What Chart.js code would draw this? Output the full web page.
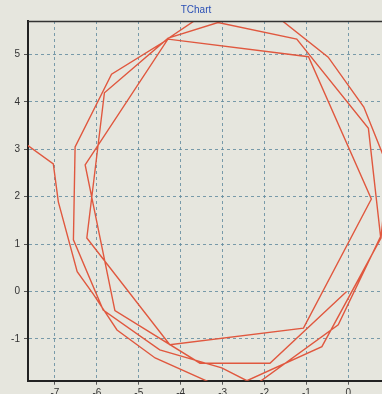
<!DOCTYPE html>
<html>
<head>
<meta charset="utf-8">
<script src="https://cdn.jsdelivr.net/npm/chart.js@4/dist/chart.umd.min.js"></script>
<style>
  html, body { margin: 0; padding: 0; background: #e6e6de; overflow: hidden; width: 382px; height: 394px; }
  #wrap { width: 396px; height: 404px; }
</style>
</head>
<body>
<div id="wrap"><canvas id="c" width="396" height="404"></canvas></div>
<script>
// Path vertices (data coordinates), in drawing order
const xValues = [-8.0, -7.04, -6.92, -6.47, -6.09, -5.52, -4.61, -2.58, -0.24, 0.77,
                 0.48, -1.23, -3.11, -4.30, -5.82, -6.24, -4.26, -1.07, 0.55, -0.95,
                 -4.30, -5.65, -6.52, -6.56, -5.85, -4.50, -3.02, -2.42, -0.63, 0.78,
                 0.95, 0.37, -0.48, -2.54, -4.29, -6.28, -5.57, -3.54, -1.87, -0.04];
const yValues = [3.30, 2.69, 1.89, 0.42, -0.05, -0.81, -1.40, -2.20, -0.70, 1.16,
                 3.44, 5.32, 5.67, 5.34, 4.19, 1.13, -1.12, -0.77, 1.95, 4.95,
                 5.32, 4.58, 3.05, 1.09, -0.39, -1.23, -1.61, -1.88, -1.16, 1.13,
                 2.61, 3.89, 4.94, 6.38, 5.34, 2.67, -0.40, -1.51, -1.51, 0.00];
const xTickValues = [-7, -6, -5, -4, -3, -2, -1, 0, 1];
const yTickValues = [-1, 0, 1, 2, 3, 4, 5];
const chartTitle = 'TChart';

const points = xValues.map((x, i) => ({ x: x, y: yValues[i] }));

const frame = {
  id: 'frame',
  afterDraw(chart) {
    const a = chart.chartArea, ctx = chart.ctx;
    ctx.save();
    ctx.strokeStyle = '#333333';
    ctx.lineWidth = 1.5;
    ctx.setLineDash([]);
    ctx.beginPath();
    ctx.moveTo(a.left, a.top + 0.5);
    ctx.lineTo(a.right, a.top + 0.5);
    ctx.lineTo(a.right, a.bottom);
    ctx.stroke();
    ctx.restore();
  }
};

const gridCommon = {
  color: 'rgba(100,140,160,0.85)',
  lineWidth: 1,
  drawTicks: true,
  tickLength: 4,
  tickColor: '#555555',
  tickBorderDash: []
};
const borderCommon = { display: true, color: '#222222', width: 2, dash: [3, 3] };

new Chart(document.getElementById('c'), {
  type: 'scatter',
  data: {
    datasets: [{
      data: points,
      showLine: true,
      borderColor: '#e0583f',
      borderWidth: 1.4,
      pointRadius: 0,
      tension: 0,
      clip: 0
    }]
  },
  plugins: [frame],
  options: {
    responsive: false,
    animation: false,
    devicePixelRatio: 1,
    layout: { padding: { left: 0, right: 4, top: 0, bottom: 0 } },
    plugins: {
      legend: { display: false },
      tooltip: { enabled: false },
      title: {
        display: true,
        text: chartTitle,
        color: '#2a4fb5',
        font: { family: 'Liberation Sans', size: 10, weight: 'normal' },
        padding: { top: 4, bottom: 5 }
      }
    },
    scales: {
      x: {
        type: 'linear',
        min: -7.644,
        max: 1.043,
        afterFit: s => { s.height = 23.3; },
        afterBuildTicks: s => { s.ticks = xTickValues.map(v => ({ value: v })); },
        grid: gridCommon,
        border: borderCommon,
        ticks: {
          color: '#333333',
          font: { family: 'Liberation Sans', size: 10 },
          padding: 3,
          maxRotation: 0,
          autoSkip: false
        }
      },
      y: {
        type: 'linear',
        min: -1.879,
        max: 5.702,
        afterFit: s => { s.width = 28; },
        afterBuildTicks: s => { s.ticks = yTickValues.map(v => ({ value: v })); },
        grid: gridCommon,
        border: borderCommon,
        ticks: {
          color: '#333333',
          font: { family: 'Liberation Sans', size: 10 },
          padding: 4,
          autoSkip: false
        }
      }
    }
  }
});
</script>
</body>
</html>
